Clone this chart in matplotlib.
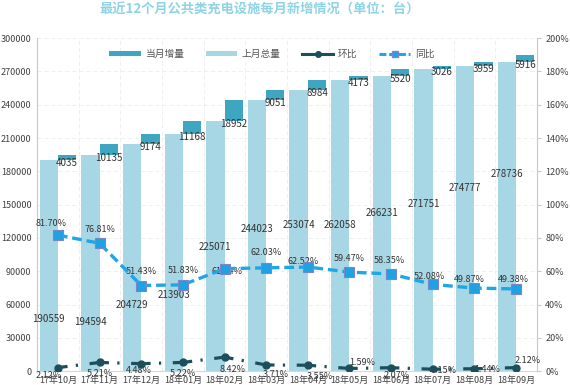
import numpy as np
import matplotlib.pyplot as plt
from matplotlib.patches import Patch
from matplotlib.lines import Line2D

plt.rcParams["font.family"] = ["Noto Sans CJK SC", "DejaVu Sans"]
plt.rcParams["lines.scale_dashes"] = False

months = ["17年10月", "17年11月", "17年12月", "18年01月", "18年02月", "18年03月",
          "18年04月", "18年05月", "18年06月", "18年07月", "18年08月", "18年09月"]
prev_total = [190559, 194594, 204729, 213903, 225071, 244023,
              253074, 262058, 266231, 271751, 274777, 278736]
increment = [4035, 10135, 9174, 11168, 18952, 9051,
             8984, 4173, 5520, 3026, 3959, 5916]
mom = [2.12, 5.21, 4.48, 5.22, 8.42, 3.71, 3.55, 1.59, 2.07, 1.15, 1.44, 2.12]
yoy = [81.70, 76.81, 51.43, 51.83, 61.54, 62.03, 62.52, 59.47, 58.35, 52.08, 49.87, 49.38]

# where excel happened to park the total labels
total_label_y = [46800, 44100, 59500, 68500, 112000, 128000,
                 131500, 132000, 142600, 151000, 164800, 178000]
yoy_offsets = [(-7, 12), (0, 14), (0, 14), (0, 14), (2, -3), (0, 15),
               (-5, 6), (0, 14), (-2, 13), (-3, 8), (-5, 9), (-3, 9)]
mom_offsets = [(-9, -8), (0, -11), (-2, -7), (0, -11), (8, -12), (10, -10),
               (12, -11), (13, 6), (6, -8), (10, -1), (13, -1), (12, 7)]

c_inc = "#3fa6c2"
c_tot = "#a7d6e4"
c_mom = "#1c4f5b"
c_yoy = "#1fa6e6"
txt = "#333333"

fig = plt.figure(figsize=(5.7, 3.85), dpi=100)
ax = fig.add_axes([0.065, 0.036, 0.877, 0.865])
ax2 = ax.twinx()

x = np.arange(len(months))
w = 0.44
ax.bar(x - w / 2, prev_total, w, color=c_tot, zorder=2)
ax.bar(x + w / 2, increment, w, bottom=prev_total, color=c_inc, zorder=2)

for i in range(len(months)):
    ax.text(x[i] - w / 2, total_label_y[i], str(prev_total[i]), ha="center", va="center",
            fontsize=7, color=txt, zorder=5)
    ax.annotate(str(increment[i]), (x[i] + w / 2, prev_total[i]), xytext=(0, -3),
                textcoords="offset pixels", ha="center", va="center",
                fontsize=7, color=txt, zorder=5)

ax.set_xlim(-0.5, len(months) - 0.5)
ax.set_ylim(0, 300000)
ax.set_yticks(np.arange(0, 300001, 30000))
ax.set_xticks(x)
ax.set_xticklabels(months)
ax.set_xticks(np.arange(-0.5, len(months), 1), minor=True)
ax.tick_params(axis="y", length=0, labelsize=6.5, labelcolor="#404040", pad=4)
ax.tick_params(axis="x", which="both", length=0, labelsize=6.5, labelcolor="#404040", pad=3.5)
ax.grid(axis="y", color="#ececec", linewidth=0.6, linestyle=(0, (3, 2)), zorder=0)
ax.grid(axis="x", which="minor", color="#ececec", linewidth=0.6, linestyle=(0, (3, 2)), zorder=0)
for s in ["top", "right"]:
    ax.spines[s].set_visible(False)
ax.spines["left"].set_color("#c8c8c8")
ax.spines["bottom"].set_color("#d8d8d8")

ax2.plot(x, mom, color=c_mom, linewidth=2.3, linestyle=(7, (14, 6, 1.6, 8.4)),
         marker="o", markersize=5, markerfacecolor=c_mom, markeredgecolor=c_mom, zorder=4)
ax2.plot(x, yoy, color=c_yoy, linewidth=2.4, linestyle=(0, (7, 3.5)),
         marker="s", markersize=7, markerfacecolor="#1ea2e4", markeredgecolor="#7b86c8",
         markeredgewidth=0.8, zorder=4)
for i in range(len(months)):
    ax2.annotate(f"{yoy[i]:.2f}%", (x[i], yoy[i]), xytext=yoy_offsets[i],
                 textcoords="offset pixels", ha="center", va="center", fontsize=6.5, color=txt)
    ax2.annotate(f"{mom[i]:.2f}%", (x[i], mom[i]), xytext=mom_offsets[i],
                 textcoords="offset pixels", ha="center", va="center", fontsize=6.5, color=txt)

ax2.set_ylim(0, 200)
ax2.set_yticks(np.arange(0, 201, 20))
ax2.set_yticklabels([f"{v}%" for v in range(0, 201, 20)])
ax2.tick_params(axis="y", length=3, color="#c8c8c8", labelsize=6.5, labelcolor="#404040", pad=3)
for s in ["top", "left", "bottom"]:
    ax2.spines[s].set_visible(False)
ax2.spines["right"].set_color("#c8c8c8")

handles = [
    Patch(facecolor=c_inc, label="当月增量"),
    Patch(facecolor=c_tot, label="上月总量"),
    Line2D([], [], color=c_mom, linewidth=2.2, marker="o", markersize=4, label="环比"),
    Line2D([], [], color=c_yoy, linewidth=2.2, linestyle=(0, (5, 2)), marker="s", markersize=4,
           markerfacecolor="#1ea2e4", markeredgecolor="#7b86c8", label="同比"),
]
ax2.legend(handles=handles, loc="center", bbox_to_anchor=(0.47, 0.952), ncol=4, frameon=False,
           fontsize=7, handlelength=3.2, handleheight=0.45, columnspacing=2.2,
           handletextpad=0.5, labelcolor="#555555")

fig.text(0.455, 0.975, "最近12个月公共类充电设施每月新增情况（单位：台）", ha="center", va="center",
         fontsize=9.5, color="#8fd4e4", fontweight="bold")

fig.savefig("out.png", dpi=100)
